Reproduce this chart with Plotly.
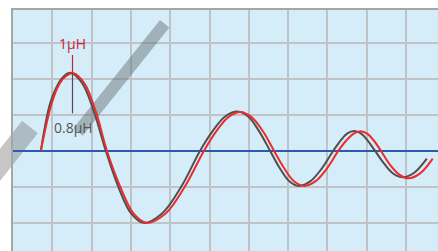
import plotly.graph_objects as go

# Damped oscillation (x: grid cells, y: grid cells)
x_08uH = [0.71, 0.94, 1.15, 1.30, 1.46, 1.76, 2.06, 2.36, 2.68, 3.00, 3.32, 3.80, 4.28, 4.76,
          5.08, 5.39, 5.71, 5.99, 6.26, 6.54, 6.79, 7.03, 7.28, 7.57, 7.86, 8.15,
          8.33, 8.50, 8.68, 8.86, 9.03, 9.21, 9.45, 9.68, 9.92, 10.20, 10.53]
y_08uH = [0.0, 1.30, 1.86, 2.08, 2.17, 1.88, 1.085, 0.0, -1.005, -1.74, -2.01, -1.74, -1.005, 0.0,
          0.545, 0.944, 1.09, 0.944, 0.545, 0.0, -0.49, -0.849, -0.98, -0.849, -0.49, 0.0,
          0.275, 0.476, 0.55, 0.476, 0.275, 0.0, -0.37, -0.641, -0.74, -0.62, -0.22]
x_1uH = [0.71, 0.98, 1.18, 1.35, 1.54, 1.82, 2.11, 2.39, 2.73, 3.06, 3.40, 3.89, 4.37, 4.86,
         5.17, 5.48, 5.79, 6.07, 6.36, 6.64, 6.90, 7.15, 7.41, 7.70, 7.99, 8.28,
         8.47, 8.66, 8.85, 9.02, 9.19, 9.36, 9.59, 9.83, 10.06, 10.35, 10.68]
y_1uH = [0.0, 1.30, 1.86, 2.08, 2.16, 1.87, 1.08, 0.0, -1.005, -1.74, -2.01, -1.74, -1.005, 0.0,
         0.54, 0.935, 1.08, 0.935, 0.54, 0.0, -0.49, -0.849, -0.98, -0.849, -0.49, 0.0,
         0.27, 0.468, 0.54, 0.468, 0.27, 0.0, -0.385, -0.667, -0.77, -0.64, -0.22]

label_1uH = "1µH"
label_08uH = "0.8µH"

fig = go.Figure()
fig.add_trace(go.Scatter(x=x_08uH, y=y_08uH, mode="lines",
                         line=dict(color="#4f4f4f", width=2, shape="spline", smoothing=1.0), hoverinfo="skip"))
fig.add_trace(go.Scatter(x=x_1uH, y=y_1uH, mode="lines",
                         line=dict(color="#ee2a2a", width=2, shape="spline", smoothing=1.0), hoverinfo="skip"))

shapes = [
    # decorative slash, upper piece
    dict(type="line", xref="x", yref="y", x0=3.86, y0=3.535, x1=1.654, y1=0.521,
         line=dict(color="rgba(100,110,115,0.47)", width=12), layer="between"),
    # decorative slash, lower-left piece
    dict(type="line", xref="paper", yref="paper", x0=0.04, y0=0.5145, x1=-0.07, y1=0.27,
         line=dict(color="rgba(120,120,120,0.42)", width=20), layer="below"),
    # marker lines at first peak
    dict(type="line", xref="x", yref="y", x0=1.514, y0=2.666, x1=1.514, y1=2.18,
         line=dict(color="#d0202e", width=1.2), layer="above"),
    dict(type="line", xref="x", yref="y", x0=1.514, y0=2.17, x1=1.514, y1=1.04,
         line=dict(color="#4f4f4f", width=1.2), layer="above"),
]

fig.update_layout(
    width=438, height=251,
    margin=dict(l=13, r=0, t=10, b=0),
    paper_bgcolor="white", plot_bgcolor="#d5ecf9",
    showlegend=False,
    shapes=shapes,
    annotations=[
        dict(x=1.51, y=2.99, xref="x", yref="y", text=label_1uH, showarrow=False,
             font=dict(family="Open Sans", size=14, color="#cc2233")),
        dict(x=1.534, y=0.64, xref="x", yref="y", text=label_08uH, showarrow=False,
             font=dict(family="Open Sans", size=14, color="#555555")),
    ],
    xaxis=dict(range=[0, 10.814], dtick=1, tick0=0, showgrid=True, gridcolor="#bfc3c6", gridwidth=1.5,
               showticklabels=False, ticks="", zeroline=False, side="top",
               showline=True, linecolor="#a6a6a6", linewidth=2, fixedrange=True),
    yaxis=dict(range=[-2.794, 3.919], dtick=1, tick0=0, showgrid=True, gridcolor="#bfc3c6", gridwidth=1.5,
               showticklabels=False, ticks="", zeroline=True, zerolinecolor="#2b5cab", zerolinewidth=2,
               showline=True, linecolor="#a6a6a6", linewidth=2, fixedrange=True),
)

fig.write_html("out.html", config={"displayModeBar": False},
               post_script="document.body.style.margin='0';document.body.style.overflow='hidden';")
